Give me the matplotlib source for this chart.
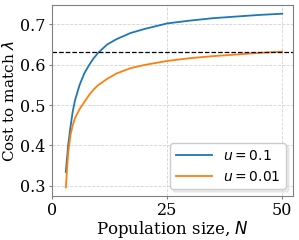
import matplotlib
matplotlib.use('Agg')
import matplotlib.pyplot as plt

plt.rcParams['font.family'] = 'DejaVu Serif'
plt.rcParams['mathtext.fontset'] = 'dejavusans'

# values
N_blue = [3, 3.5, 4, 4.5, 5, 6, 7, 8, 9, 10, 12, 14, 17, 20, 25, 30, 35, 40, 45, 50]
cost_blue = [0.334, 0.400, 0.445, 0.484, 0.512, 0.550, 0.578, 0.598, 0.615, 0.629,
             0.650, 0.663, 0.678, 0.688, 0.702, 0.709, 0.715, 0.719, 0.723, 0.726]

N_orange = [3, 3.5, 4, 4.5, 5, 6, 7, 8, 9, 10, 12, 14, 17, 20, 25, 30, 35, 40, 45, 50]
cost_orange = [0.296, 0.380, 0.425, 0.450, 0.468, 0.490, 0.507, 0.524, 0.538, 0.549,
               0.565, 0.578, 0.591, 0.599, 0.609, 0.616, 0.621, 0.625, 0.629, 0.632]

threshold = 0.632
labels = [r'$u=0.1$', r'$u=0.01$']

fig, ax = plt.subplots(figsize=(2.99, 2.4), dpi=100)
fig.subplots_adjust(left=0.174, right=0.98, top=0.979, bottom=0.183)

ax.plot(N_blue, cost_blue, color='#1f77b4', lw=1.3, label=labels[0])
ax.plot(N_orange, cost_orange, color='#ff7f0e', lw=1.3, label=labels[1])
ax.axhline(threshold, color='black', ls='--', lw=0.9)

ax.set_xlim(0, 52.35)
ax.set_xticks([0, 25, 50])
ax.set_yticks([0.3, 0.4, 0.5, 0.6, 0.7])
ax.grid(True, color='#c8c8c8', ls='--', lw=0.6, alpha=0.8)
ax.set_axisbelow(True)
for s in ax.spines.values():
    s.set_color('#808080')
ax.tick_params(colors='black', labelsize=11.5, length=2, pad=3, color='#808080')
ax.tick_params(axis='x', pad=2)

ax.set_xlabel(r'Population size, $N$', fontsize=12, labelpad=0)
ax.set_ylabel(r'Cost to match $\lambda$', fontsize=11, labelpad=2)
ax.legend(loc='lower right', handlelength=2.6, shadow={'color': '0.85'},
          borderaxespad=0.5, prop={'family': 'DejaVu Sans', 'size': 10})

fig.savefig('out.png', dpi=100)
